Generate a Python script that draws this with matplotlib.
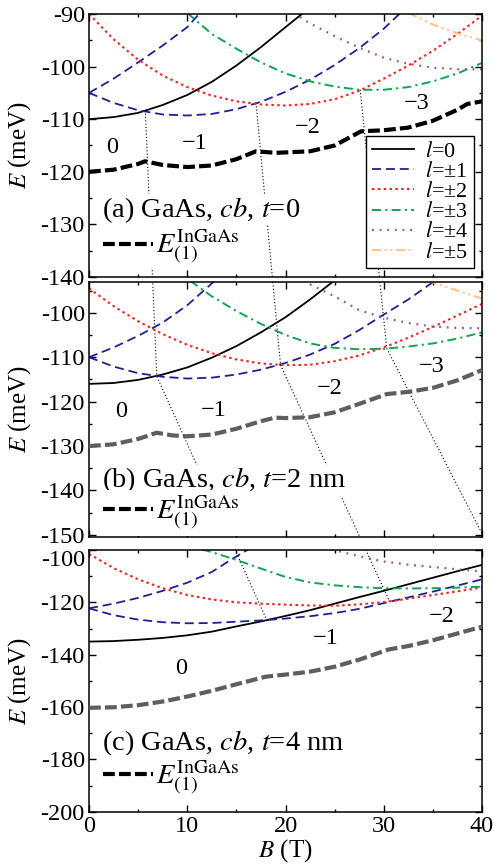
import matplotlib
matplotlib.use("Agg")
import matplotlib.pyplot as plt
import numpy as np
from matplotlib.lines import Line2D
from matplotlib.ticker import MultipleLocator

plt.rcParams['font.family'] = ['Liberation Serif', 'DejaVu Serif']
plt.rcParams['mathtext.fontset'] = 'stix'
plt.rcParams['axes.unicode_minus'] = False
plt.rcParams['lines.scale_dashes'] = False

# ---------------- data: panel (a), t = 0 ----------------
a_B_l0 = [0, 2.5, 5, 7.5, 10, 12.5, 15, 17.5, 20, 21.8]
a_E_l0 = [-110, -109.6, -108.8, -107.3, -105.4, -102.9, -99.8, -96.3, -92.5, -89.8]
a_B_p1 = [0, 2.5, 5, 7.5, 10, 11.3]
a_E_p1 = [-105, -102.3, -99.2, -96.0, -92.5, -89.8]
a_B_m1 = [0, 2.5, 5, 7.5, 10, 12.5, 15, 17.5, 20, 22.5, 25, 27.5, 30, 31.7]
a_E_m1 = [-105, -106.9, -108.3, -109.1, -109.3, -109.0, -108.1, -106.7, -104.8, -102.5, -99.7, -96.5, -92.8, -89.8]
a_B_m2 = [0, 2.5, 5, 7.5, 10, 12.5, 15, 17.5, 20, 22.5, 25, 27.5, 30, 32.5, 35, 37.5, 40]
a_E_m2 = [-90, -94.8, -98.7, -101.7, -103.9, -105.5, -106.6, -107.2, -107.4, -107.1, -106.2, -104.6, -102.3, -99.8, -97.0, -93.8, -90.3]
a_B_m3 = [10, 12.5, 15, 17.5, 20, 22.5, 25, 27.5, 30, 32.5, 35, 37.5, 40]
a_E_m3 = [-89.8, -93.8, -96.6, -99.2, -101.3, -102.8, -103.8, -104.4, -104.4, -103.9, -102.8, -101.3, -99.3]
a_B_m4 = [20.8, 22.5, 25, 27.5, 30, 32.5, 35, 37.5, 40]
a_E_m4 = [-89.8, -91.8, -94.2, -96.4, -98.3, -99.5, -100.2, -100.5, -100.5]
a_B_m5 = [32.5, 35, 37.5, 40]
a_E_m5 = [-89.8, -92.0, -93.7, -95.0]
a_B_e1 = [0, 2.5, 5, 5.7, 7.5, 10, 12.5, 15, 17.0, 19, 22.5, 25, 27.7, 30, 32.5, 35, 37.5, 38.5, 40]
a_E_e1 = [-120, -119.6, -118.5, -118.0, -118.7, -119.1, -118.8, -117.6, -116.1, -116.4, -116.1, -115.0, -112.3, -112.1, -111.6, -110.3, -108.2, -107.1, -106.6]

# ---------------- data: panel (b), t = 2 nm ----------------
b_B_l0 = [0, 2.5, 5, 7.5, 10, 12.5, 15, 17.5, 20, 22.5, 25]
b_E_l0 = [-116, -115.8, -115.1, -113.9, -112.3, -110.1, -107.5, -104.4, -101.0, -97.0, -92.7]
b_B_p1 = [0, 2.5, 5, 7.5, 10, 12.8]
b_E_p1 = [-110, -107.8, -105.2, -102.2, -98.3, -92.8]
b_B_m1 = [0, 2.5, 5, 7.5, 10, 12.5, 15, 17.5, 20, 22.5, 25, 27.5, 30, 32.5, 35.2]
b_E_m1 = [-110, -112.1, -113.6, -114.4, -114.8, -114.6, -113.9, -112.8, -111.3, -109.4, -107.0, -103.9, -100.4, -97.0, -92.8]
b_B_m2 = [0, 2.5, 5, 7.5, 10, 12.5, 15, 17.5, 20, 22.5, 25, 27.5, 30, 32.5, 35, 37.5, 40]
b_E_m2 = [-94.5, -98.5, -101.9, -104.8, -107.2, -109.1, -110.5, -111.4, -111.8, -111.7, -110.9, -109.6, -107.8, -105.6, -103.2, -100.6, -98.0]
b_B_m3 = [10.3, 12.5, 15, 17.5, 20, 22.5, 25, 27.5, 30, 32.5, 35, 37.5, 40]
b_E_m3 = [-92.8, -96.3, -99.6, -102.5, -105.0, -106.9, -107.9, -108.2, -108.1, -107.6, -106.9, -105.8, -104.4]
b_B_m4 = [21.8, 22.5, 25, 27.5, 30, 32.5, 35, 37.5, 40]
b_E_m4 = [-92.8, -93.6, -96.3, -99.4, -101.1, -102.3, -103.1, -103.4, -103.5]
b_B_m5 = [34.5, 37.5, 40]
b_E_m5 = [-92.8, -95.0, -96.8]
b_B_e1 = [0, 2.5, 5, 6.9, 8.5, 10, 12.5, 15, 17.5, 18.9, 20, 22.5, 25, 27.5, 30.3, 32.5, 35, 37.5, 40]
b_E_e1 = [-130, -129.6, -128.4, -127.0, -127.6, -127.8, -127.4, -126.1, -124.4, -123.6, -123.7, -123.5, -122.4, -120.5, -118.3, -117.8, -116.9, -115.2, -112.9]

# ---------------- data: panel (c), t = 4 nm ----------------
c_B_l0 = [0, 2.5, 5, 7.5, 10, 12.5, 15, 17.5, 20, 22.5, 25, 27.5, 30, 32.5, 35, 37.5, 40]
c_E_l0 = [-135, -134.8, -134.3, -133.6, -132.6, -131.2, -129.2, -127.3, -125.2, -123.0, -120.5, -118.0, -115.6, -113.1, -110.6, -108.1, -105.7]
c_B_p1 = [0, 2.5, 5, 7.5, 10, 12.5, 14.5, 16.2]
c_E_p1 = [-122.3, -120.5, -118.3, -115.6, -112.5, -108.4, -103.6, -99.8]
c_B_m1 = [0, 2.5, 5, 7.5, 10, 12.5, 15, 17.5, 20, 22.5, 25, 27.5, 30, 32.5, 35, 37.5, 40]
c_E_m1 = [-122.3, -124.9, -126.6, -127.6, -128.0, -127.9, -127.4, -126.9, -126.2, -125.3, -124.1, -122.5, -120.3, -118.1, -115.9, -113.6, -111.2]
c_B_m2 = [0, 2.5, 5, 7.5, 10, 12.5, 15, 17.5, 20, 22.5, 25, 27.5, 30, 32.5, 35, 37.5, 40]
c_E_m2 = [-101.5, -106.9, -111.2, -114.6, -117.2, -118.9, -120.0, -120.5, -120.9, -121.2, -121.3, -120.8, -119.9, -118.6, -117.2, -115.8, -114.3]
c_B_m3 = [11.5, 12.5, 15, 17.5, 20, 22.5, 25, 27.5, 30, 32.5, 35, 37.5, 40]
c_E_m3 = [-99.8, -100.8, -103.8, -107.1, -110.3, -112.4, -113.5, -114.2, -114.6, -114.7, -114.6, -114.4, -114.0]
c_B_m4 = [24.7, 27.5, 30, 32.5, 35, 37.5, 40]
c_E_m4 = [-99.8, -102.4, -104.4, -105.6, -106.5, -107.4, -108.2]
c_B_e1 = [0, 2.5, 5, 7.5, 10, 12.5, 15, 18, 20, 22.5, 25, 27.5, 30.5, 32.5, 35, 37.5, 40]
c_E_e1 = [-160.3, -160.1, -159.3, -157.9, -156.0, -153.8, -151.3, -148.4, -147.6, -146.5, -144.6, -141.9, -138.0, -136.7, -134.5, -131.9, -129.3]

# ---------------- ground-state transition points (panel, B, E) ----------------
trans1 = [(0, 5.73, -108.3), (1, 6.9, -114.3), (2, 18.1, -126.8)]
trans2 = [(0, 17.0, -106.9), (1, 19.5, -111.8), (2, 30.6, -119.7)]
trans3 = [(0, 27.6, -104.4), (1, 30.3, -108.0), (1, 40.3, -151.0)]

# region labels: (text, B, E)
a_regions = [("0", 2.4, -115.3), ("\u22121", 10.8, -114.7), ("\u22122", 22.3, -111.6), ("\u22123", 33.4, -107.1)]
b_regions = [("0", 3.3, -122.2), ("\u22121", 12.7, -121.9), ("\u22122", 24.5, -117.0), ("\u22123", 34.9, -112.0)]
c_regions = [("0", 9.4, -145.2), ("\u22121", 24.1, -133.8), ("\u22122", 35.9, -125.5)]

panel_titles = ["(a) GaAs, $cb$, $t$=0", "(b) GaAs, $cb$, $t$=2 nm", "(c) GaAs, $cb$, $t$=4 nm"]
ylims = [(-140, -90), (-150.4, -93), (-200, -100)]
yticks = [[-140, -130, -120, -110, -100, -90],
          [-150, -140, -130, -120, -110, -100],
          [-200, -180, -160, -140, -120, -100]]
xticks = [0, 10, 20, 30, 40]

# ---------------- styles ----------------
FS_TICK = 17.5
FS_LAB = 18
FS_REG = 17.5
FS_TITLE = 20.5
FS_E1 = 20.5
FS_LEG = 16
st_l0 = dict(color='black', lw=1.3, ls='-')
st_l1 = dict(color='#1f1f9a', lw=1.3, dashes=(6.5, 3.5))
st_l2 = dict(color='#ff2020', lw=1.5, dashes=(1.8, 2.4))
st_l3 = dict(color='#10a550', lw=1.4, dashes=(6.5, 3.0, 1.6, 3.0))
st_l4 = dict(color='#a04aa0', lw=1.6, dashes=(1.3, 4.2))
st_l5 = dict(color='#ffc48c', lw=1.5, dashes=(6.5, 2.6, 1.5, 2.6, 1.5, 2.6))
e1_colors = ['black', '#5e5e5e', '#5e5e5e']
e1_dash = (8.5, 3.0)

fig = plt.figure(figsize=(4.94, 8.64), dpi=100)
W, H = 494, 864
left, right = 89 / W, 482 / W
px_rows = [(14, 277), (281.7, 536.7), (550, 811.7)]
axes = []
for (t, b) in px_rows:
    ax = fig.add_axes([left, 1 - b / H, right - left, (b - t) / H])
    axes.append(ax)

panels = [
    dict(l0=(a_B_l0, a_E_l0), p1=(a_B_p1, a_E_p1), m1=(a_B_m1, a_E_m1), m2=(a_B_m2, a_E_m2),
         m3=(a_B_m3, a_E_m3), m4=(a_B_m4, a_E_m4), m5=(a_B_m5, a_E_m5), e1=(a_B_e1, a_E_e1),
         regions=a_regions),
    dict(l0=(b_B_l0, b_E_l0), p1=(b_B_p1, b_E_p1), m1=(b_B_m1, b_E_m1), m2=(b_B_m2, b_E_m2),
         m3=(b_B_m3, b_E_m3), m4=(b_B_m4, b_E_m4), m5=(b_B_m5, b_E_m5), e1=(b_B_e1, b_E_e1),
         regions=b_regions),
    dict(l0=(c_B_l0, c_E_l0), p1=(c_B_p1, c_E_p1), m1=(c_B_m1, c_E_m1), m2=(c_B_m2, c_E_m2),
         m3=(c_B_m3, c_E_m3), m4=(c_B_m4, c_E_m4), m5=None, e1=(c_B_e1, c_E_e1),
         regions=c_regions),
]
title_y = [0.255, 0.222, 0.262]
e1leg_y = [0.114, 0.093, 0.129]

for i, (ax, p) in enumerate(zip(axes, panels)):
    ax.set_xlim(0, 40)
    ax.set_ylim(*ylims[i])
    ax.set_yticks(yticks[i])
    ax.set_xticks(xticks)
    ax.xaxis.set_minor_locator(MultipleLocator(5))
    ax.yaxis.set_minor_locator(MultipleLocator(10 if i == 2 else 5))
    ax.tick_params(which='both', direction='in', top=True, right=True, labelsize=FS_TICK, width=1.0)
    ax.tick_params(which='major', length=5, pad=3)
    ax.tick_params(which='minor', length=2.5)
    for s in ax.spines.values():
        s.set_linewidth(1.1)
    if i < 2:
        ax.tick_params(labelbottom=False)
    ax.set_ylabel("$E$ (meV)", fontsize=FS_LAB)
    ax.yaxis.set_label_coords(-0.142, 0.5)

    h0, = ax.plot(*p['l0'], **st_l0, label='$l$=0')
    h1, = ax.plot(*p['p1'], **st_l1, label='$l$=\u00b11')
    ax.plot(*p['m1'], **st_l1)
    h2, = ax.plot(*p['m2'], **st_l2, label='$l$=\u00b12')
    h3, = ax.plot(*p['m3'], **st_l3, label='$l$=\u00b13')
    h4, = ax.plot(*p['m4'], **st_l4, label='$l$=\u00b14')
    if p['m5'] is not None:
        h5, = ax.plot(*p['m5'], **st_l5, label='$l$=\u00b15')
    he, = ax.plot(*p['e1'], color=e1_colors[i], lw=3.0, dashes=e1_dash, zorder=3)

    for txt, bx, ey in p['regions']:
        ax.text(bx, ey, txt, fontsize=FS_REG, ha='center', va='center')

    ax.text(0.032, title_y[i], panel_titles[i], transform=ax.transAxes, fontsize=FS_TITLE,
            ha='left', va='center', zorder=6,
            bbox=dict(facecolor='white', edgecolor='none', pad=0.5))

    proxy = Line2D([], [], color='black', lw=3.0, dashes=e1_dash)
    leg_e = ax.legend([proxy], ['$E_{(1)}^{\\mathrm{InGaAs}}$'], loc='center left',
                      bbox_to_anchor=(0.026, e1leg_y[i]), frameon=True, fontsize=FS_E1,
                      handlelength=1.75, handletextpad=0.1, borderpad=0.15, borderaxespad=0)
    leg_e.get_frame().set_edgecolor('none')
    leg_e.get_frame().set_facecolor('white')
    leg_e.get_frame().set_alpha(1)
    leg_e.set_zorder(6)
    if i == 0:
        ax.add_artist(leg_e)
        leg = ax.legend(handles=[h0, h1, h2, h3, h4, h5], loc='lower right',
                        bbox_to_anchor=(0.98, 0.034), fontsize=FS_LEG, frameon=True,
                        fancybox=False, edgecolor='black', framealpha=1,
                        handlelength=1.9, handletextpad=0.5, labelspacing=-0.02,
                        borderpad=0.25, borderaxespad=0)
        leg.get_frame().set_linewidth(1.0)
        leg.set_zorder(6)

axes[2].set_xlabel("$B$ (T)", fontsize=FS_LAB, labelpad=0)

# transition lines running through all panels
for tr in (trans1, trans2, trans3):
    disp = np.array([axes[k].transData.transform((bx, ey)) for k, bx, ey in tr])
    for ax in axes:
        d = ax.transData.inverted().transform(disp)
        ax.plot(d[:, 0], d[:, 1], color='black', lw=0.8, dashes=(0.8, 1.6), zorder=1)

for i, ax in enumerate(axes):
    ax.set_xlim(0, 40)
    ax.set_ylim(*ylims[i])

# top tick label of the last panel sits just below its tick
fig.canvas.draw()
axes[2].yaxis.get_major_ticks()[-1].label1.set_va('top')

fig.savefig("out.png", dpi=100)
